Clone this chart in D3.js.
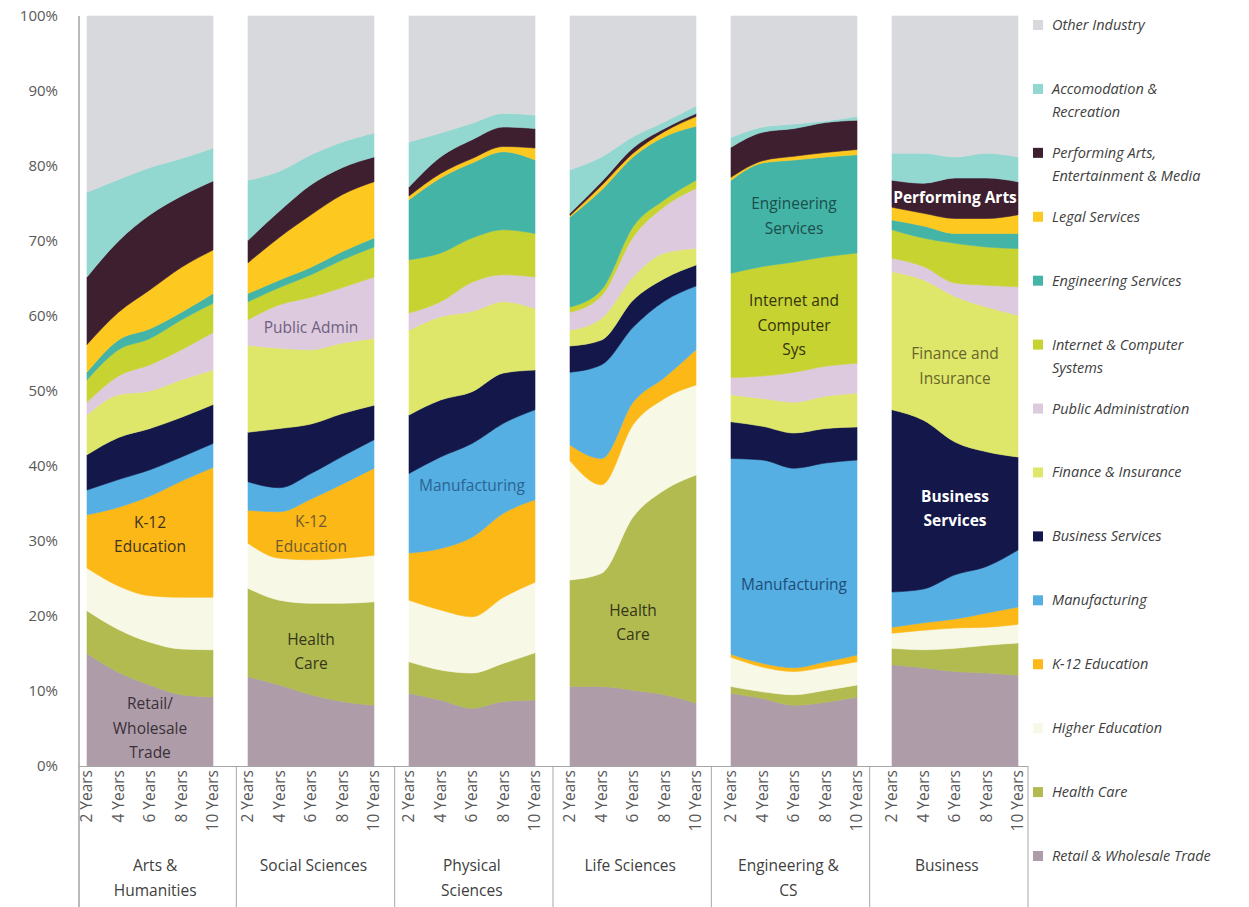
<!DOCTYPE html>
<html>
<head>
<meta charset="utf-8">
<script src="https://cdn.jsdelivr.net/npm/d3@7"></script>
<style>
  html, body { margin: 0; padding: 0; background: #ffffff; }
  svg { display: block; }
  text { font-family: "Open Sans", "Noto Sans", sans-serif; }
</style>
</head>
<body>
<svg id="chart" width="1249" height="907"></svg>
<script>
// ---------- DATA ----------
const years = ["2 Years", "4 Years", "6 Years", "8 Years", "10 Years"];
const groups = ["Arts & Humanities", "Social Sciences", "Physical Sciences", "Life Sciences", "Engineering & CS", "Business"];
const groupLabelLines = [["Arts &", "Humanities"], ["Social Sciences"], ["Physical", "Sciences"], ["Life Sciences"], ["Engineering &", "CS"], ["Business"]];
const yTicks = [0, 10, 20, 30, 40, 50, 60, 70, 80, 90, 100];

// shares (%) per group, 5 values each (2,4,6,8,10 years), groups in order above
const retailWholesale = [15, 12.5, 10.8, 9.5, 9.2,   11.9, 10.8, 9.5, 8.6, 8.1,   9.7, 8.8, 7.7, 8.6, 8.8,   10.6, 10.6, 10.1, 9.5, 8.4,   9.7, 9, 8.1, 8.5, 9.2,   13.5, 13.1, 12.6, 12.4, 12.1];
const healthCare      = [5.7, 5.7, 5.7, 6.1, 6.3,    11.8, 11.3, 12.2, 13.1, 13.8, 4.2, 4, 4.7, 5.1, 6.3,       14.2, 15.1, 23.1, 27.3, 30.4, 0.9, 0.9, 1.4, 1.6, 1.6,       2.2, 2.4, 3.1, 3.7, 4.3];
const higherEducation = [5.7, 5.8, 6.2, 6.9, 7,      6, 5.6, 5.8, 6, 6.2,         8.2, 8, 7.5, 8.8, 9.4,     15.9, 11.8, 12.3, 12.2, 12, 3.9, 3.3, 3.1, 3.1, 3.1,         2, 2.6, 2.7, 2.4, 2.5];
const k12Education    = [7.1, 10.5, 13.3, 15.5, 17.3, 4.4, 6.2, 8.1, 9.9, 11.6,   6.3, 8.2, 10.6, 11.2, 11,  2.1, 3.5, 3, 2.8, 4.7,       0.4, 0.5, 0.5, 0.7, 0.9,         0.8, 1, 1.2, 1.9, 2.3];
const manufacturing   = [3.3, 3.7, 3.5, 3.2, 3.2,    3.8, 3.2, 3.4, 3.7, 3.8,     10.6, 12.2, 12.5, 12, 12,  9.7, 12.5, 10, 10.2, 8.5,    26.1, 27.1, 26.6, 26.5, 26,      4.7, 4.5, 5.9, 6.2, 7.6];
const businessServices= [4.7, 5.6, 5.5, 5.3, 5.2,    6.6, 7.9, 6.6, 5.7, 4.6,     7.8, 7.6, 6.9, 6.7, 5.3,   3.5, 3.3, 3.6, 3, 2.8,       4.9, 4.5, 4.7, 4.6, 4.4,         24.3, 22.5, 17.7, 15.3, 12.4];
const financeInsurance= [5.3, 5.7, 5, 5, 4.6,        11.6, 10.7, 9.9, 9.4, 8.9,   11.3, 11.1, 10.7, 9.5, 8.2, 2.1, 2.9, 3.1, 3.4, 2.2,      3.6, 3.7, 4.1, 4.3, 4.5,         18.4, 18.7, 19.4, 19.3, 18.9];
const publicAdmin     = [1.7, 2.5, 3.5, 4, 5,        3.4, 5.8, 7, 7.4, 8.2,       2.3, 2, 3.9, 3.6, 4.2,     2.4, 3, 5.3, 6.2, 8,         2.3, 3, 4, 4, 4,                 1.8, 1.8, 1.8, 2.9, 3.8];
const internetComputer= [3, 3.5, 3.5, 4, 3.9,        2.4, 2.3, 3, 3.7, 4,         7.1, 6.5, 5.9, 6, 5.8,     0.7, 0.8, 1.4, 0.9, 1.1,     13.9, 14.6, 14.7, 14.6, 14.7,    3.8, 3.8, 5.3, 5.1, 5.1];
const engineeringSvc  = [1, 1.3, 1.3, 1, 1.3,        1.1, 1, 1, 1.1, 1.2,         8, 10, 10, 10.4, 9.8,      12, 13.3, 9.3, 8.4, 7.2,     12.4, 13.8, 13.6, 13.3, 13.1,    1.3, 1.6, 1.3, 1.8, 2];
const legalServices   = [3.7, 3.7, 5.2, 6, 5.8,      4.1, 5.7, 7, 7.6, 7.5,       0.5, 0.6, 0.6, 0.7, 1.6,   0.2, 0.6, 0.5, 0.7, 1.3,     0.4, 0.3, 0.5, 0.6, 0.7,         1.7, 1.7, 2, 2, 2.5];
const performingArts  = [9, 9.5, 10, 9.5, 9.2,       3, 3.5, 4, 3.6, 3.3,         1.2, 2.2, 2.5, 2.6, 2.6,   0.3, 0.5, 0.7, 0.4, 0.4,     4, 3.8, 3.7, 4, 3.9,             3.6, 4, 5.4, 5.4, 4.4];
const accommodation   = [11.3, 8.2, 6.3, 5, 4.4,     8, 5.3, 4, 3.4, 3.2,         6, 3.2, 2.2, 1.8, 1.8,     5.8, 3.3, 1.5, 0.9, 1,       1.3, 0.7, 0.6, 0.2, 0.5,         3.6, 4, 2.8, 3.3, 3.3];
const otherIndustry   = [23.5, 21.8, 20.2, 19, 17.6, 21.9, 20.7, 18.5, 16.8, 15.6, 16.8, 15.6, 14.3, 13, 13.2, 20.5, 18.8, 16.1, 14.1, 12, 16.2, 14.8, 14.4, 14, 13.4,  18.3, 18.3, 18.8, 18.3, 18.8];

// series, bottom to top
const seriesNames = ["Retail & Wholesale Trade", "Health Care", "Higher Education", "K-12 Education", "Manufacturing",
  "Business Services", "Finance & Insurance", "Public Administration", "Internet & Computer Systems",
  "Engineering Services", "Legal Services", "Performing Arts, Entertainment & Media", "Accomodation & Recreation", "Other Industry"];
const seriesValues = [retailWholesale, healthCare, higherEducation, k12Education, manufacturing, businessServices,
  financeInsurance, publicAdmin, internetComputer, engineeringSvc, legalServices, performingArts, accommodation, otherIndustry];
const seriesColors = ["#ae9da9", "#b1bb4f", "#f8f8e6", "#fcb816", "#55afe3", "#13174a", "#dfe76b", "#ddcade",
  "#c7d331", "#44b4a7", "#fdc81f", "#3e1f2f", "#93d7d1", "#d8d9dc"];

// legend (top to bottom), wrapped lines
const legendLines = [["Other Industry"], ["Accomodation &", "Recreation"], ["Performing Arts,", "Entertainment & Media"],
  ["Legal Services"], ["Engineering Services"], ["Internet & Computer", "Systems"], ["Public Administration"],
  ["Finance & Insurance"], ["Business Services"], ["Manufacturing"], ["K-12 Education"], ["Higher Education"],
  ["Health Care"], ["Retail & Wholesale Trade"]];

// in-chart annotations: [group, year anchor, value level %, lines, color, bold]
const annotations = [
  ["Arts & Humanities", "6 Years", 30.8, ["K-12", "Education"], "#3d3320", false],
  ["Arts & Humanities", "6 Years", 5.0, ["Retail/", "Wholesale", "Trade"], "#3a3038", false],
  ["Social Sciences", "6 Years", 58.4, ["Public Admin"], "#6f5f80", false],
  ["Social Sciences", "6 Years", 30.9, ["K-12", "Education"], "#6d5a30", false],
  ["Social Sciences", "6 Years", 15.2, ["Health", "Care"], "#34361a", false],
  ["Physical Sciences", "6 Years", 37.4, ["Manufacturing"], "#2a6592", false],
  ["Life Sciences", "6 Years", 19.1, ["Health", "Care"], "#34361a", false],
  ["Engineering & CS", "6 Years", 73.3, ["Engineering", "Services"], "#1b4f4b", false],
  ["Engineering & CS", "6 Years", 58.7, ["Internet and", "Computer", "Sys"], "#33340c", false],
  ["Engineering & CS", "6 Years", 24.2, ["Manufacturing"], "#1d4d77", false],
  ["Business", "6 Years", 75.8, ["Performing Arts"], "#ffffff", true],
  ["Business", "6 Years", 53.3, ["Finance and", "Insurance"], "#66662a", false],
  ["Business", "6 Years", 34.3, ["Business", "Services"], "#ffffff", true]
];

// ---------- CHART ----------
const svg = d3.select("#chart");
const y = d3.scaleLinear().domain([0, 100]).range([766, 16]);
const panelX = d3.scalePoint().domain(groups).range([87, 892]);
const innerX = d3.scalePoint().domain(years).range([0, 126]);
const boxX = d3.scaleBand().domain(groups).range([78, 1028]);
const px = (g, yr) => panelX(g) + innerX(yr);

const stack = d3.stack().keys(seriesNames);

groups.forEach((g, gi) => {
  const rows = years.map((yr, yi) => {
    const r = { year: yr };
    seriesNames.forEach((s, si) => { r[s] = seriesValues[si][gi * 5 + yi]; });
    return r;
  });
  const layers = stack(rows);
  const area = d3.area()
    .x(d => px(g, d.data.year))
    .y0(d => y(d[0]))
    .y1(d => y(Math.min(100, d[1])))
    .curve(d3.curveMonotoneX);
  const gEl = svg.append("g").attr("class", "panel");
  gEl.selectAll("path").data(layers).join("path")
    .attr("d", area)
    .attr("fill", (d, i) => seriesColors[i])
    .attr("stroke", (d, i) => seriesColors[i])
    .attr("stroke-width", 0.6);
});

// y axis
const yAxisG = svg.append("g").attr("transform", "translate(79,0)")
  .call(d3.axisLeft(y).tickValues(yTicks).tickFormat(d => d + "%").tickSize(0).tickPadding(21));
yAxisG.select(".domain").remove();
yAxisG.selectAll("text").attr("font-size", 15).attr("fill", "#595959")
  .style("font-family", "'Open Sans', sans-serif");
svg.append("line").attr("x1", 79).attr("x2", 79).attr("y1", 16).attr("y2", 907)
  .attr("stroke", "#8c8c8c").attr("stroke-width", 1.2);

// x axis baseline
svg.append("line").attr("x1", 79).attr("x2", boxX.range()[1]).attr("y1", 766.5).attr("y2", 766.5)
  .attr("stroke", "#a6a6a6").attr("stroke-width", 1);

// year tick labels
groups.forEach(g => {
  svg.append("g").selectAll("text").data(years).join("text")
    .attr("transform", d => `translate(${px(g, d) + 5},770) rotate(-90)`)
    .attr("text-anchor", "end")
    .attr("font-size", 15.5)
    .attr("fill", "#595959")
    .text(d => d);
});

// group separators and labels
groups.forEach((g, i) => {
  const xr = boxX(g) + boxX.bandwidth();
  svg.append("line").attr("x1", xr).attr("x2", xr).attr("y1", 766).attr("y2", 907)
    .attr("stroke", "#a6a6a6").attr("stroke-width", 1);
  svg.append("text")
    .attr("text-anchor", "middle")
    .attr("font-size", 15.5)
    .attr("fill", "#404040")
    .selectAll("tspan").data(groupLabelLines[i]).join("tspan")
    .attr("x", boxX(g) + boxX.bandwidth() / 2 - 2)
    .attr("y", (d, j) => 871 + j * 25)
    .text(d => d);
});

// annotations
annotations.forEach(([g, yr, lvl, lines, color, bold]) => {
  const n = lines.length;
  const cx = px(g, yr);
  const cy = y(lvl);
  svg.append("text")
    .attr("text-anchor", "middle")
    .attr("font-size", 15.5)
    .attr("font-weight", bold ? "bold" : "normal")
    .attr("fill", color)
    .selectAll("tspan").data(lines).join("tspan")
    .attr("x", cx)
    .attr("y", (d, j) => cy + (j - (n - 1) / 2) * 24.5 + 5)
    .text(d => d);
});

// legend
const legendColors = seriesColors.slice().reverse();
const legendY = d3.scalePoint().domain(legendLines.map((d, i) => i)).range([25, 856]);
legendLines.forEach((lines, i) => {
  const ly = legendY(i);
  svg.append("rect").attr("x", 1033).attr("y", ly - 5).attr("width", 10).attr("height", 10)
    .attr("fill", legendColors[i]);
  svg.append("text")
    .attr("font-size", 14.5)
    .attr("font-style", "italic")
    .attr("fill", "#404040")
    .selectAll("tspan").data(lines).join("tspan")
    .attr("x", 1052)
    .attr("y", (d, j) => ly + 5 + j * 23)
    .text(d => d);
});
</script>
</body>
</html>
